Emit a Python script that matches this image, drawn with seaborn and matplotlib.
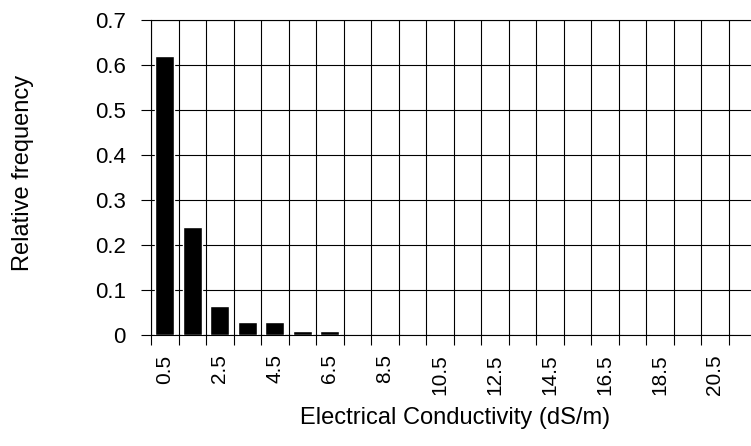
import matplotlib
matplotlib.use("Agg")
import matplotlib.pyplot as plt
import seaborn as sns
import pandas as pd
import numpy as np
from matplotlib.ticker import FixedLocator

categories = ["0.5", "1.5", "2.5", "3.5", "4.5", "5.5", "6.5", "7.5", "8.5", "9.5", "10.5",
              "11.5", "12.5", "13.5", "14.5", "15.5", "16.5", "17.5", "18.5", "19.5", "20.5", "21.5"]
rel_freq = [0.62, 0.241, 0.064, 0.029, 0.029, 0.009, 0.009, 0, 0, 0, 0,
            0, 0, 0, 0, 0, 0, 0, 0, 0, 0, 0]
y_ticks = [0, 0.1, 0.2, 0.3, 0.4, 0.5, 0.6, 0.7]
y_tick_labels = ["0", "0.1", "0.2", "0.3", "0.4", "0.5", "0.6", "0.7"]
shown_x_labels = ["0.5", "2.5", "4.5", "6.5", "8.5", "10.5", "12.5", "14.5", "16.5", "18.5", "20.5"]

sns.set_style("white")
plt.rcParams['font.family'] = ['Liberation Sans', 'DejaVu Sans']
plt.rcParams.update({"text.color": "black", "axes.labelcolor": "black",
                     "xtick.color": "black", "ytick.color": "black",
                     "axes.edgecolor": "black"})

df = pd.DataFrame({"ec": categories, "freq": rel_freq})

fig = plt.figure(figsize=(7.51, 4.46), dpi=100)
ax = fig.add_axes([151 / 751, 111 / 446, 605 / 751, 315 / 446])

sns.barplot(data=df, x="ec", y="freq", order=categories, color="black",
            width=0.68, saturation=1, ax=ax, zorder=3)

n = len(categories)
ax.set_xlim(-0.5, n - 0.5)
ax.set_ylim(0, 0.7)

# y axis
ax.set_yticks(y_ticks)
ax.set_yticklabels(y_tick_labels, fontsize=16)
ax.tick_params(axis="y", which="major", direction="out", length=7.2, width=0.8,
               color="black", labelcolor="black", left=True, pad=11)

# x axis: labels on every other category, tick marks at category boundaries
label_pos = [categories.index(c) for c in shown_x_labels]
ax.set_xticks(label_pos)
ax.set_xticklabels(shown_x_labels, rotation=90, fontsize=15)
ax.tick_params(axis="x", which="major", length=0, pad=14, labelcolor="black")
ax.xaxis.set_minor_locator(FixedLocator(np.arange(-0.5, n, 1.0)))
ax.tick_params(axis="x", which="minor", direction="out", length=7.2, width=0.8,
               color="black", bottom=True)

ax.grid(False)
ax.xaxis.grid(True, which="minor", color="black", linewidth=0.8)
ax.yaxis.grid(True, which="major", color="black", linewidth=0.8)
ax.set_axisbelow(True)

for s in ["left", "bottom", "top"]:
    ax.spines[s].set_visible(True)
    ax.spines[s].set_color("black")
    ax.spines[s].set_linewidth(0.8)
ax.spines["right"].set_visible(False)

ax.set_ylabel("Relative frequency", fontsize=17, color="black")
ax.yaxis.set_label_coords((34 - 151) / 605, 0.516)
ax.set_xlabel("Electrical Conductivity (dS/m)", fontsize=17, color="black")
ax.xaxis.set_label_coords((455 - 151) / 605, -(407 - 335) / 315)

fig.savefig("out.png", dpi=100)
